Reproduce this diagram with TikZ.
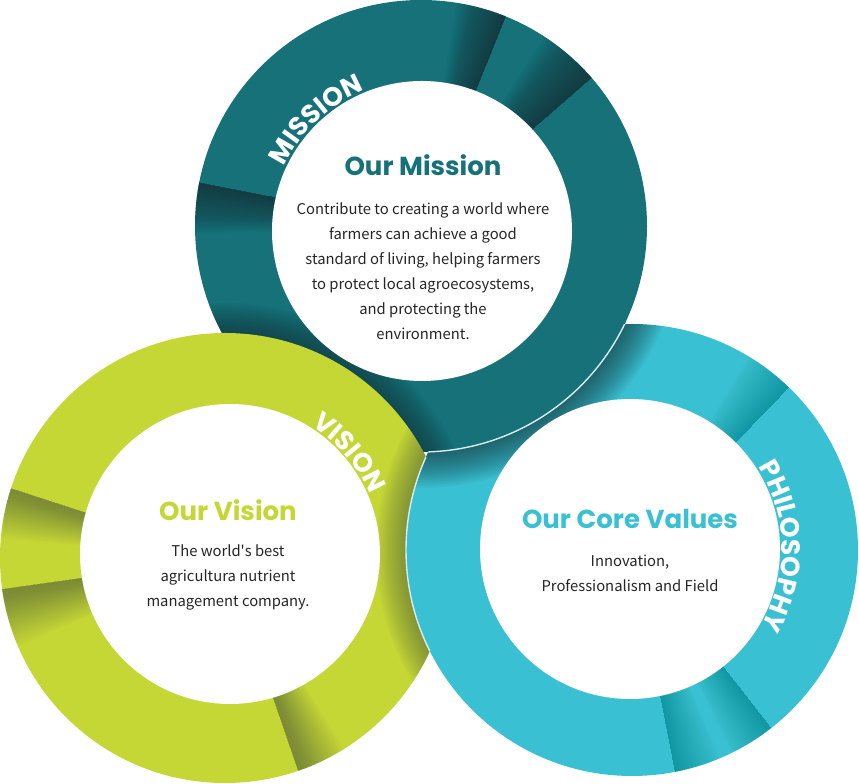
\documentclass[tikz,border=0pt]{standalone}
\usepackage{fontspec}
\setmainfont{Noto Sans CJK KR}
\newfontfamily\headfont{Poppins}
\usetikzlibrary{calc,decorations.text}
\definecolor{missionTeal}{RGB}{22,113,121}
\definecolor{visionLime}{RGB}{196,215,53}
\definecolor{valueCyan}{RGB}{57,193,211}
\definecolor{edgeLight}{RGB}{214,238,240}
\definecolor{tealShade}{RGB}{18,36,40}
\definecolor{limeShade}{RGB}{70,82,58}
\definecolor{cyanShade}{RGB}{14,60,70}

\begin{document}
\begin{tikzpicture}
[x=1pt,y=1pt,
  bodyText/.style={align=center,text=black!85,font=\fontsize{14.8}{25}\selectfont},
  headText/.style={font=\headfont\bfseries\fontsize{26}{30}\selectfont},
  ringLabel/.style={decorate,decoration={text along path,text align=center,
    text color=white,text={|\headfont\bfseries\fontsize{26.5}{26.5}\selectfont|#1}}},
  bandShade/.style={fill opacity=#1},
  shadowLine/.style={draw opacity=#1},
  edgeLine/.style={draw=edgeLight,line width=1.4pt}]
\useasboundingbox (0,0) rectangle (859,784);
%% centres of the rings and of their white discs
\foreach \ptname/\x/\y in {mOut/421/558, mIn/422/553, vOut/225/226, vIn/230/230,
  cOut/632/234, cIn/630/235}
{
  \coordinate (\ptname) at (\x,\y);
}
%% mission ring
\fill[missionTeal] (mOut) circle (226);
\begin{scope}
  \clip (mOut) circle (226);
  \foreach \a/\d/\w in {68/1/13, 41/1/16, 169/1/13}
    \foreach \k in {1,...,40}
    {
      \pgfmathsetmacro\sweep{\d*\w*\k/40}
      \fill[bandShade=0.018, tealShade] (mOut) -- ++(\a:250) arc[start angle=\a, delta angle=\sweep, radius=250] -- cycle;
    }
  \foreach \w in {4,8,...,60}
    \draw[shadowLine=0.04, tealShade, line width=\w pt] (vOut) circle (225);
\end{scope}
\fill[white] (mIn) circle (150);
%% vision ring
\fill[visionLime] (vOut) circle (225);
\begin{scope}
  \clip (vOut) circle (225);
  \foreach \a/\d/\w in {162/1/13, 188/1/15, 289/1/13}
    \foreach \k in {1,...,40}
    {
      \pgfmathsetmacro\sweep{\d*\w*\k/40}
      \fill[bandShade=0.014, limeShade] (vOut) -- ++(\a:250) arc[start angle=\a, delta angle=\sweep, radius=250] -- cycle;
    }
  \foreach \w in {4,8,...,60}
    \draw[shadowLine=0.04, limeShade, line width=\w pt] (cOut) circle (226);
\end{scope}
\fill[white] (vIn) circle (150);
%% core values ring
\fill[valueCyan] (cOut) circle (226);
\begin{scope}
  \clip (cOut) circle (226);
  \foreach \a/\d/\w in {46/1/13, 308/-1/12, 281/1/12}
    \foreach \k in {1,...,40}
    {
      \pgfmathsetmacro\sweep{\d*\w*\k/40}
      \fill[bandShade=0.009, cyanShade] (cOut) -- ++(\a:250) arc[start angle=\a, delta angle=\sweep, radius=250] -- cycle;
    }
  \foreach \w in {4,8,...,72}
    \draw[shadowLine=0.045, tealShade, line width=\w pt] (mOut) circle (226);
\end{scope}
\fill[white] (cIn) circle (150);
%% the mission ring passes over the core values ring
\begin{scope}
  \clip (cOut) circle (229);
  \clip (mOut) circle (226);
  \fill[missionTeal] (mOut) circle (226);
  \foreach \w in {4,8,...,60}
    \draw[shadowLine=0.04, tealShade, line width=\w pt] (vOut) circle (225);
\end{scope}
\begin{scope}
  \clip (cOut) circle (226);
  \draw[edgeLine] (mOut) circle (226);
\end{scope}
\begin{scope}
  \clip (vOut) circle (225);
  \draw[edgeLine] (cOut) circle (226);
\end{scope}
%% words on the rings
\path[ringLabel=MISSION] ($(mIn)+(173.5:152)$) arc[start angle=173.5, end angle=93.5, radius=152];
\path[ringLabel=VISION] ($(vIn)+(80.5:152)$) arc[start angle=80.5, end angle=0.5, radius=152];
\path[ringLabel=PHILOSOPHY] ($(cIn)+(60:152)$) arc[start angle=60, end angle=-58, radius=152];
%% texts in the discs
\node (missionHead) at (423,619) [headText, text=missionTeal] {Our Mission};
\node (missionBody) at (423,513) [bodyText] {Contribute to creating a world where\\farmers can achieve a good\\standard of living, helping farmers\\to protect local agroecosystems,\\and protecting the\\environment.};
\node (visionHead) at (228,274) [headText, text=visionLime] {Our Vision};
\node (visionBody) at (228,207) [bodyText] {The world\textquotesingle s best\\agricultura nutrient\\management company.};
\node (valueHead) at (630,265) [headText, text=valueCyan] {Our Core Values};
\node (valueBody) at (630,211) [bodyText] {Innovation,\\Professionalism and Field};
\end{tikzpicture}
\end{document}
